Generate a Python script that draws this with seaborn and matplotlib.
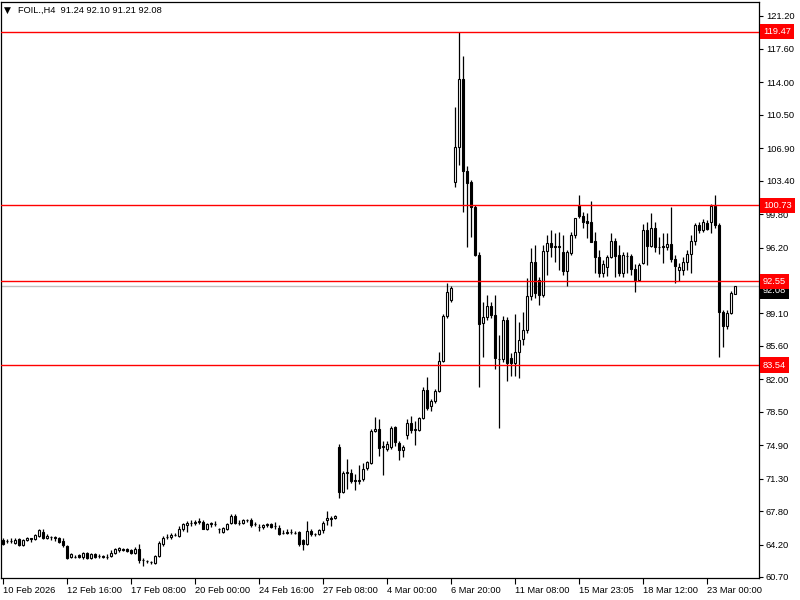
import matplotlib
matplotlib.use("Agg")
import matplotlib.pyplot as plt
import numpy as np
import pandas as pd
import seaborn as sns

sns.set_theme(style="white")
plt.rcParams['font.family'] = ['Liberation Sans', 'DejaVu Sans']

# ---- data (FOIL., H4) ----
opens = [
    64.70, 64.59, 64.62, 64.40, 64.80, 64.15, 64.70, 64.85, 64.80, 65.13, 65.56, 64.91, 65.02, 64.95, 64.88,
    64.62, 64.05, 62.86, 62.90, 63.08, 62.86, 63.29, 62.75, 63.18, 62.97, 62.97, 62.86, 62.97, 63.29,
    63.62, 63.72, 63.72, 63.62, 63.29, 63.72, 62.54, 62.46, 62.32, 62.21, 62.97, 64.26, 64.98, 65.02, 65.20,
    65.13, 65.88, 66.32, 66.50, 66.57, 66.64, 66.64, 65.88, 66.43, 66.46, 65.92, 65.56, 65.88, 66.53,
    67.29, 66.53, 66.53, 66.86, 66.86, 66.40, 66.14, 66.10, 66.32, 66.43, 66.18, 65.99, 65.45, 65.56, 65.52,
    65.42, 65.56, 64.70, 64.26, 65.67, 65.34, 65.34, 65.78, 66.86, 67.07, 67.07,
    74.74, 69.88, 71.93, 71.93, 71.10, 71.04, 71.29, 72.47, 73.02, 76.47, 76.69, 74.74, 74.53, 74.74, 76.90,
    75.18, 74.42, 76.04, 77.34, 76.58, 76.58, 77.88, 80.90, 79.17, 79.71, 80.79, 83.93, 88.79, 90.52,
    103.27, 107.05, 114.39, 104.45, 103.27, 100.57, 95.38,
    88.03, 88.68, 89.87, 88.90, 84.20, 84.14, 88.36, 84.25, 83.71, 84.90, 86.31, 87.28, 90.95, 94.62, 92.68,
    91.06, 95.81, 96.67, 96.35, 96.35, 95.70, 93.65, 95.59, 97.54, 100.78, 99.59, 99.05, 98.95, 96.89, 95.16,
    93.43, 94.08, 95.16, 96.89, 95.38, 93.43, 95.27, 95.27, 93.86, 92.68, 94.51, 98.08, 96.35, 98.30, 96.28,
    96.35, 96.24, 96.57, 94.95, 93.76, 93.76, 94.62, 95.49, 96.89, 98.62, 98.08, 98.84, 98.95, 100.67, 98.62,
    89.22, 87.71, 89.11, 91.24,
]
highs = [
    64.91, 64.80, 64.91, 64.91, 64.91, 64.80, 65.02, 64.95, 65.34, 65.88, 65.88, 65.34, 65.13, 65.13, 65.02,
    64.91, 64.15, 63.29, 63.08, 63.18, 63.40, 63.40, 63.29, 63.29, 63.18, 63.08, 63.18, 63.62, 63.83,
    63.94, 63.83, 63.83, 63.72, 63.94, 64.26, 62.75, 62.54, 62.43, 63.08, 64.59, 65.13, 65.34, 65.45, 65.45,
    66.21, 66.53, 66.75, 66.86, 66.86, 67.07, 66.86, 66.53, 66.64, 66.75, 65.99, 66.10, 66.53, 67.51,
    67.51, 66.86, 66.96, 66.96, 67.07, 66.64, 66.43, 66.43, 66.53, 66.53, 66.64, 66.32, 65.78, 65.88, 65.88,
    65.67, 65.67, 64.80, 66.75, 65.88, 65.45, 65.88, 66.75, 67.83, 67.29, 67.40,
    75.07, 72.15, 73.45, 72.37, 71.83, 72.80, 73.02, 73.23, 76.69, 77.98, 77.77, 75.39, 75.39, 77.01, 77.01,
    75.39, 74.96, 77.77, 78.09, 77.55, 77.98, 81.12, 82.20, 79.93, 81.01, 84.90, 89.00, 92.35, 92.03,
    111.37, 119.47, 116.88, 104.99, 103.48, 100.78, 95.70,
    90.30, 91.06, 90.30, 91.06, 86.74, 88.79, 88.68, 84.79, 89.00, 88.14, 89.22, 92.89, 96.13, 96.46, 93.00,
    96.46, 97.54, 98.08, 97.76, 97.86, 97.54, 95.92, 97.86, 99.43, 101.86, 100.02, 99.92, 101.21, 97.86, 95.92,
    94.84, 95.38, 97.76, 97.22, 96.46, 95.70, 95.70, 95.49, 94.41, 94.51, 98.73, 98.95, 99.92, 98.95, 97.32,
    97.76, 97.76, 100.57, 95.38, 94.51, 95.16, 95.92, 97.54, 98.84, 98.95, 99.27, 99.16, 100.89, 101.86, 98.84,
    89.44, 89.44, 91.49, 92.10,
]
lows = [
    64.15, 64.37, 64.37, 64.26, 64.05, 64.05, 64.59, 64.48, 64.70, 65.02, 64.80, 64.80, 64.70, 64.59, 64.40,
    63.94, 62.64, 62.75, 62.75, 62.75, 62.64, 62.64, 62.64, 62.75, 62.75, 62.75, 62.64, 62.86, 63.18,
    63.40, 63.51, 63.40, 63.18, 63.18, 62.21, 61.89, 62.21, 62.10, 62.10, 62.86, 64.05, 64.80, 64.80, 65.13,
    65.02, 65.67, 65.56, 66.21, 66.32, 66.43, 65.88, 65.78, 66.10, 66.21, 65.45, 65.45, 65.78, 66.43,
    66.43, 66.32, 66.43, 66.64, 66.10, 66.21, 65.67, 65.88, 66.10, 65.99, 65.88, 65.23, 65.34, 65.34, 65.34,
    65.34, 64.05, 63.62, 64.15, 65.13, 65.13, 65.23, 65.45, 66.32, 66.21, 66.96,
    69.23, 69.77, 70.21, 70.85, 70.10, 70.75, 71.07, 72.26, 72.91, 76.36, 73.77, 71.72, 74.31, 74.53, 74.85,
    73.34, 73.66, 75.61, 76.26, 74.96, 76.47, 77.77, 78.74, 78.63, 79.50, 80.58, 83.82, 88.57, 90.30,
    102.73, 105.10, 100.02, 96.24, 97.32, 95.27, 81.12,
    84.36, 88.36, 88.57, 83.06, 76.80, 83.82, 81.87, 82.41, 82.41, 82.09, 85.66, 86.95, 90.52, 90.73, 89.98,
    90.84, 93.22, 95.16, 94.62, 93.76, 93.22, 92.03, 95.38, 97.22, 99.38, 98.30, 97.22, 96.78, 93.43, 93.00,
    93.00, 93.11, 95.05, 93.00, 93.11, 93.00, 93.43, 93.22, 91.38, 92.57, 94.41, 94.30, 96.24, 95.70, 95.49,
    94.51, 95.92, 94.62, 92.35, 92.57, 93.22, 93.76, 93.43, 96.46, 97.76, 97.86, 98.08, 97.76, 98.30, 84.36,
    85.44, 87.38, 89.00, 91.21,
]
closes = [
    64.26, 64.62, 64.55, 64.70, 64.15, 64.70, 64.91, 64.80, 65.23, 65.78, 64.91, 65.13, 64.98, 65.00, 64.48,
    64.15, 62.75, 63.18, 62.86, 62.86, 63.29, 62.75, 63.18, 62.86, 62.93, 62.86, 62.90, 63.29, 63.72,
    63.83, 63.62, 63.51, 63.29, 63.72, 62.54, 62.50, 62.40, 62.36, 62.97, 64.37, 64.91, 65.05, 65.23, 65.27,
    65.88, 66.43, 66.53, 66.57, 66.60, 66.68, 65.88, 66.43, 66.53, 66.43, 65.88, 65.99, 66.43, 67.29,
    66.53, 66.50, 66.86, 66.89, 66.32, 66.43, 66.10, 66.32, 66.43, 66.10, 66.21, 65.34, 65.42, 65.45, 65.56,
    65.45, 64.26, 64.26, 65.67, 65.34, 65.38, 65.78, 66.53, 67.07, 67.00, 67.29,
    69.88, 71.93, 72.04, 71.07, 71.04, 71.10, 72.37, 73.12, 76.47, 76.69, 74.64, 74.78, 75.07, 76.80, 75.20,
    74.42, 74.74, 77.34, 76.58, 76.62, 77.88, 80.90, 78.96, 79.71, 80.79, 83.93, 88.79, 91.38, 91.81,
    107.05, 114.39, 104.45, 103.16, 100.57, 95.38, 87.92,
    88.68, 89.87, 88.90, 84.25, 84.14, 88.36, 83.71, 83.71, 84.90, 86.20, 87.28, 90.95, 94.62, 91.27, 91.06,
    95.81, 96.67, 96.24, 96.31, 96.24, 93.65, 95.70, 97.54, 99.38, 99.59, 98.95, 98.84, 96.78, 95.16, 93.43,
    94.41, 95.16, 96.89, 95.27, 93.43, 95.38, 95.31, 93.86, 92.68, 94.30, 98.08, 96.35, 98.30, 96.24, 96.24,
    96.24, 96.57, 94.95, 94.19, 94.08, 94.62, 95.49, 96.89, 98.62, 98.08, 98.95, 98.19, 100.67, 98.62, 89.22,
    87.71, 89.11, 91.27, 92.08,
]

x_tick_labels = ["10 Feb 2026", "12 Feb 16:00", "17 Feb 08:00", "20 Feb 00:00", "24 Feb 16:00",
                 "27 Feb 08:00", "4 Mar 00:00", "6 Mar 20:00", "11 Mar 08:00", "15 Mar 23:05",
                 "18 Mar 12:00", "23 Mar 00:00"]
label_every = 16
y_ticks = [121.20, 117.60, 114.00, 110.50, 106.90, 103.40, 99.80, 96.20,
           89.10, 85.60, 82.00, 78.50, 74.90, 71.30, 67.80, 64.20, 60.70]
levels = [119.47, 100.73, 92.55, 83.54]
last_price = 92.08
header = "FOIL.,H4  91.24 92.10 91.21 92.08"

df = pd.DataFrame({"open": opens, "high": highs, "low": lows, "close": closes})
df["idx"] = np.arange(len(df))
df["bull"] = df["close"] >= df["open"]

W, H = 800, 600
fig = plt.figure(figsize=(8, 6), dpi=100)
ax_l, ax_r, ax_t, ax_b = 1, 759, 2, 578
ax = fig.add_axes([ax_l / W, 1 - ax_b / H, (ax_r - ax_l) / W, (ax_b - ax_t) / H])
ax.set_facecolor("white")

# wicks
ax.vlines(df["idx"], df["low"], df["high"], color="black", lw=0.9, zorder=3)
# bodies
bottom = np.minimum(df["open"], df["close"])
height = np.maximum(np.abs(df["close"] - df["open"]), 0.03)
colors = np.where(df["bull"], "white", "black")
ax.bar(df["idx"], height, bottom=bottom, width=0.6, color=colors,
       edgecolor="black", linewidth=0.8, zorder=4)

# horizontal levels
ax.axhline(last_price, color="#c0c0c0", lw=1, zorder=2)
for lv in levels:
    ax.axhline(lv, color="red", lw=1, zorder=5)

ax.set_xlim((ax_l - 3) / 4, (ax_r - 3) / 4)
px_per_unit = (577 - 15.5) / (121.20 - 60.70)
ax.set_ylim(60.70 - (ax_b - 577) / px_per_unit, 121.20 + (15.5 - ax_t) / px_per_unit)

ax.set_xticks(np.arange(len(x_tick_labels)) * label_every)
ax.set_xticklabels(x_tick_labels, ha="left")
ax.yaxis.tick_right()
ax.set_yticks(y_ticks)
ax.set_yticklabels([f"{v:.2f}" for v in y_ticks])
ax.tick_params(axis="x", direction="out", length=4, width=0.8, pad=2, labelsize=6.7,
               colors="black", bottom=True)
ax.tick_params(axis="y", direction="out", length=3, width=0.8, pad=2, labelsize=6.7,
               colors="black", right=True, left=False)
for sp in ax.spines.values():
    sp.set_color("black")
    sp.set_linewidth(0.9)
ax.grid(False)

trans = ax.get_yaxis_transform()
box_kw = dict(transform=trans, ha="left", va="center", fontsize=6.7, color="white", clip_on=False)
ax.text(1.005, last_price - 0.55, f"{last_price:.2f}", zorder=10,
        bbox=dict(boxstyle="square,pad=0.35", fc="black", ec="none"), **box_kw)
for lv in levels:
    ax.text(1.005, lv, f"{lv:.2f}", zorder=11,
            bbox=dict(boxstyle="square,pad=0.35", fc="red", ec="none"), **box_kw)

# header
fig.text(4 / W, 1 - 10 / H, "\u25BC", fontsize=6.5, va="center", ha="left", color="black",
         family=["DejaVu Sans"])
fig.text(18 / W, 1 - 10 / H, header, fontsize=6.7, va="center", ha="left", color="black")

fig.savefig("out.png", dpi=100)
